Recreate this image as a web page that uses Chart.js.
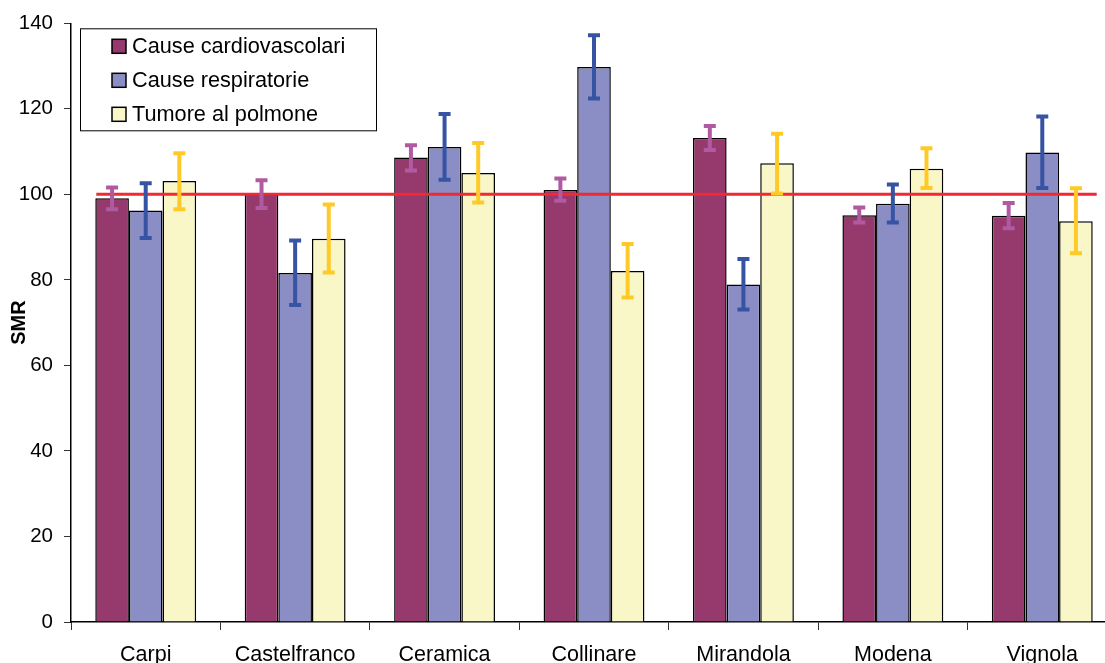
<!DOCTYPE html>
<html>
<head>
<meta charset="utf-8">
<script src="https://cdn.jsdelivr.net/npm/chart.js@4.4.1/dist/chart.umd.min.js"></script>
<style>
  html, body { margin: 0; padding: 0; background: #fff; overflow: hidden; }
  #wrap { width: 1105px; height: 663px; overflow: hidden; }
</style>
</head>
<body>
<div id="wrap"><canvas id="smrChart" width="1125" height="663"></canvas></div>
<script>
const categories = ['Carpi', 'Castelfranco', 'Ceramica', 'Collinare', 'Mirandola', 'Modena', 'Vignola']
const seriesNames = ['Cause cardiovascolari', 'Cause respiratorie', 'Tumore al polmone']

const cardio   = [99.1, 100.0, 108.6, 101.0, 113.2, 95.1, 95.0]
const cardioLo = [96.5, 96.8, 105.6, 98.5, 110.4, 93.4, 92.1]
const cardioHi = [101.6, 103.3, 111.5, 103.7, 116.0, 96.9, 98.0]

const resp   = [96.2, 81.6, 111.1, 129.8, 78.9, 97.8, 109.8]
const respLo = [89.8, 74.1, 103.4, 122.4, 73.1, 93.4, 101.5]
const respHi = [102.6, 89.2, 118.8, 137.2, 84.9, 102.3, 118.2]

const tumor   = [103.1, 89.6, 105.0, 82.1, 107.3, 106.0, 93.7]
const tumorLo = [96.5, 81.7, 98.1, 75.9, 100.2, 101.5, 86.2]
const tumorHi = [109.6, 97.6, 112.0, 88.4, 114.2, 110.8, 101.4]

const yTicks = [0, 20, 40, 60, 80, 100, 120, 140]
const refValue = 100

const barColors = ['#963A6E', '#8A8EC4', '#F9F7C8']
const errColors = ['#B05AA2', '#3753A4', '#FFCA28']
const errLows = [cardioLo, respLo, tumorLo]
const errHighs = [cardioHi, respHi, tumorHi]

Chart.defaults.font.family = "'Liberation Sans', Arial, sans-serif"
Chart.defaults.color = '#000'

// red line at SMR = 100, then error bars on top
const overlayPlugin = {
    id: 'overlay',
    afterDatasetsDraw(chart) {
        const ctx = chart.ctx
        const yScale = chart.scales.y
        const first = chart.getDatasetMeta(0).data[0]
        const lastMeta = chart.getDatasetMeta(2).data
        const last = lastMeta[lastMeta.length - 1]

        let yRef = yScale.getPixelForValue(refValue)
        ctx.save()
        ctx.strokeStyle = '#EE2A35'
        ctx.lineWidth = 3
        ctx.beginPath()
        ctx.moveTo(first.x - first.width / 2 + 1, yRef)
        ctx.lineTo(last.x + last.width / 2 + 4, yRef)
        ctx.stroke()

        for (let d = 0; d < 3; d++) {
            let meta = chart.getDatasetMeta(d)
            ctx.strokeStyle = errColors[d]
            ctx.lineWidth = 4
            meta.data.forEach(function (bar, i) {
                let yLo = yScale.getPixelForValue(errLows[d][i])
                let yHi = yScale.getPixelForValue(errHighs[d][i])
                ctx.beginPath()
                ctx.moveTo(bar.x, yLo)
                ctx.lineTo(bar.x, yHi)
                ctx.moveTo(bar.x - 6, yLo)
                ctx.lineTo(bar.x + 6, yLo)
                ctx.moveTo(bar.x - 6, yHi)
                ctx.lineTo(bar.x + 6, yHi)
                ctx.stroke()
            })
        }
        ctx.restore()
    }
}

// boxed legend inside the plot, top left
const boxLegendPlugin = {
    id: 'boxLegend',
    afterDraw(chart) {
        const ctx = chart.ctx
        const area = chart.chartArea
        let left = area.left + 9
        let top = area.top + 5
        ctx.save()
        ctx.fillStyle = '#fff'
        ctx.fillRect(left, top, 296, 102)
        ctx.strokeStyle = '#000'
        ctx.lineWidth = 1
        ctx.strokeRect(left + 0.5, top + 0.5, 296, 102)

        ctx.font = "21.7px 'Liberation Sans', Arial, sans-serif"
        ctx.textBaseline = 'middle'
        chart.data.datasets.forEach(function (ds, i) {
            let cy = top + 18 + i * 34
            ctx.fillStyle = ds.backgroundColor
            ctx.fillRect(left + 32, cy - 7, 14, 14)
            ctx.lineWidth = 1.5
            ctx.strokeStyle = '#000'
            ctx.strokeRect(left + 32, cy - 7, 14, 14)
            ctx.fillStyle = '#000'
            ctx.fillText(ds.label, left + 52, cy + 1)
        })
        ctx.restore()
    }
}

let ctx = document.getElementById('smrChart').getContext('2d')
new Chart(ctx, {
    type: 'bar',
    data: {
        labels: categories,
        datasets: [cardio, resp, tumor].map(function (values, i) {
            return {
                label: seriesNames[i],
                data: values,
                backgroundColor: barColors[i],
                borderColor: '#000',
                borderWidth: 1.5,
                categoryPercentage: 0.675,
                barPercentage: 1.0
            }
        })
    },
    options: {
        responsive: false,
        animation: false,
        layout: { padding: { top: 22, right: 8, left: 0, bottom: 0 } },
        plugins: {
            legend: { display: false },
            tooltip: { enabled: false }
        },
        scales: {
            x: {
                grid: { offset: true, drawOnChartArea: false, tickLength: 8, color: '#333', lineWidth: 1 },
                border: { color: '#000', width: 1.5 },
                ticks: { font: { size: 21.5 }, padding: 12, maxRotation: 0, autoSkip: false },
                afterFit(scale) { scale.height = 41 }
            },
            y: {
                min: 0,
                max: 140,
                afterBuildTicks(scale) { scale.ticks = yTicks.map(v => ({ value: v })) },
                grid: { drawOnChartArea: false, tickLength: 7, color: '#333', lineWidth: 1 },
                border: { color: '#000', width: 1.5 },
                ticks: { font: { size: 20.5 }, padding: 11 },
                title: {
                    display: true,
                    text: 'SMR',
                    font: { size: 20, weight: 'bold' },
                    padding: { top: 7, bottom: 0 }
                },
                afterFit(scale) { scale.width = 71 }
            }
        }
    },
    plugins: [overlayPlugin, boxLegendPlugin]
})
</script>
</body>
</html>
